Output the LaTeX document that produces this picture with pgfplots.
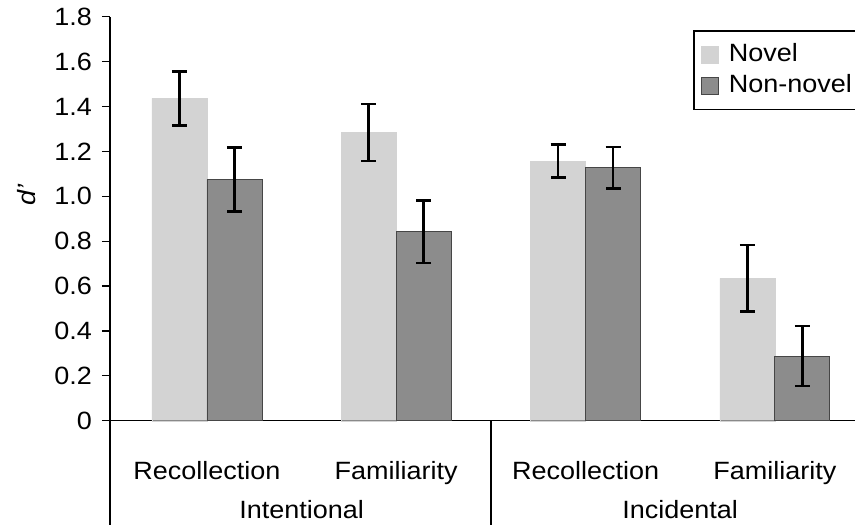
\documentclass[border=0pt]{standalone}
\usepackage{pgfplots}
\pgfplotsset{compat=1.18}
\usepackage{fontspec}
\setmainfont{Liberation Sans}[FakeStretch=1.08]
\definecolor{novel}{RGB}{211,211,211}
\definecolor{nonnovel}{RGB}{140,140,140}
\definecolor{nnedge}{RGB}{70,70,70}
\begin{document}
\fontsize{25}{30}\selectfont
\begin{tikzpicture}
\clip (-110pt,-104.3pt) rectangle (745pt,420.7pt);
\begin{axis}[
  at={(0pt,0pt)}, anchor=south west,
  scale only axis, width=761.8pt, height=403.9pt,
  xmin=-0.512, xmax=3.512, ymin=0, ymax=1.8,
  axis lines*=left,
  ybar=0pt, bar width=55pt,
  xtick={0,1,2,3},
  xticklabels={Recollection,Familiarity,Recollection,Familiarity},
  x tick style={draw=none},
  xticklabel style={anchor=base, yshift=-51pt, inner sep=0pt},
  ytick={0,0.2,0.4,0.6,0.8,1.0,1.2,1.4,1.6,1.8},
  yticklabels={0,0.2,0.4,0.6,0.8,1.0,1.2,1.4,1.6,1.8},
  tick align=outside, major tick length=8pt,
  y tick style={line width=1.2pt, black},
  axis line style={line width=1.5pt, black},
  yticklabel style={anchor=east, inner sep=0pt, xshift=-10pt},
  ylabel={\textit{d’}},
  ylabel style={at={(axis description cs:-0.11,0.559)}, anchor=center},
  legend style={at={(0.7653,0.9673)}, anchor=north west, draw=black, line width=1.5pt,
    inner xsep=7pt, inner ysep=11pt, row sep=5pt},
  legend cell align=left,
  legend image code/.code={\draw[#1, line width=0.8pt] (0pt,-8.5pt) rectangle (17pt,8.5pt);
    \path (25pt,0pt);},
  clip=false,
  /pgf/number format/assume math mode=true,
]
\addplot[fill=novel, draw=novel,
  error bars/.cd, y dir=both, y explicit,
  error bar style={line width=2.5pt, black},
  error mark options={rotate=90, mark size=7.5pt, line width=2.5pt, black}]
  table[x=x, y=y, y error=e] {
x y e
0 1.436 0.121
1 1.285 0.127
2 1.157 0.073
3 0.634 0.148
};
\addlegendentry{Novel}
\addplot[fill=nonnovel, draw=nnedge, line width=0.8pt,
  error bars/.cd, y dir=both, y explicit,
  error bar style={line width=2.5pt, black},
  error mark options={rotate=90, mark size=7.5pt, line width=2.5pt, black}]
  table[x=x, y=y, y error=e] {
x y e
0 1.075 0.143
1 0.842 0.139
2 1.127 0.093
3 0.288 0.134
};
\addlegendentry{Non-novel}
\draw[line width=1.5pt, black] (axis cs:-0.512,0) -- ++(0pt,-130pt);
\draw[line width=1.5pt, black] (axis cs:1.5,0) -- ++(0pt,-130pt);
\draw[line width=1.5pt, black] (axis cs:3.512,0) -- ++(0pt,-130pt);
\node[anchor=base, inner sep=0pt] at (axis cs:0.5,0) [yshift=-98pt] {Intentional};
\node[anchor=base, inner sep=0pt] at (axis cs:2.5,0) [yshift=-98pt] {Incidental};
\end{axis}
\end{tikzpicture}
\end{document}
